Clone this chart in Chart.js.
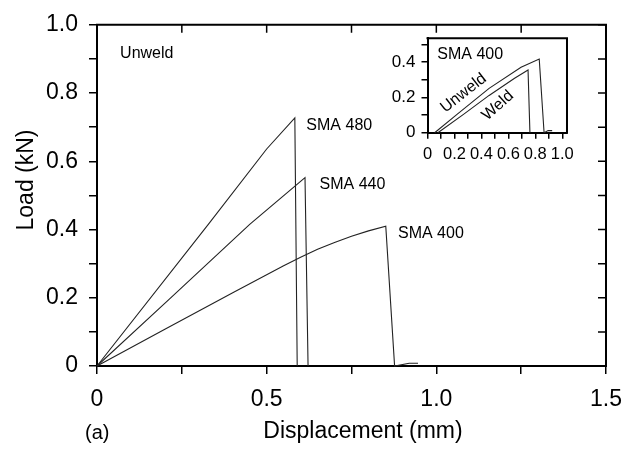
<!DOCTYPE html>
<html>
<head>
<meta charset="utf-8">
<script src="https://cdn.jsdelivr.net/npm/chart.js@4"></script>
<style>
	body {margin: 0; background: #fff;}
	#wrap {position: relative; width: 635px; height: 452px; background: #fff;}
	#main {position: absolute; left: 0; top: 0;}
	#inset {position: absolute; left: 390px; top: 22px;}
</style>
</head>
<body>
<div id="wrap">
	<canvas id="main" width="635" height="452"></canvas>
	<canvas id="inset" width="190" height="150"></canvas>
</div>
<script>
// unwelded specimens, load (kN) vs displacement (mm)
const sma480Disp = [0, 0.328, 0.5, 0.583, 0.59];
const sma480Load = [0, 0.415, 0.636, 0.727, 0];
const sma440Disp = [0, 0.214, 0.45, 0.613, 0.622];
const sma440Load = [0, 0.197, 0.415, 0.552, 0];
const sma400Disp = [0, 0.2, 0.4, 0.55, 0.6, 0.65, 0.7, 0.75, 0.8, 0.851, 0.877, 0.92, 0.946];
const sma400Load = [0, 0.108, 0.215, 0.294, 0.319, 0.342, 0.362, 0.38, 0.396, 0.41, 0, 0.008, 0.008];

// inset: SMA 400, unweld vs weld
const unweldDisp = [0.053, 0.219, 0.457, 0.694, 0.829, 0.865, 0.895, 0.925];
const unweldLoad = [0, 0.104, 0.251, 0.37, 0.417, 0, 0.012, 0.012];
const weldDisp = [0.077, 0.267, 0.457, 0.646, 0.746, 0.76];
const weldLoad = [0, 0.104, 0.211, 0.308, 0.355, 0];

// labelled ticks
const mainXTickValues = [0, 0.5, 1.0, 1.5];
const mainXTickLabels = ["0", "0.5", "1.0", "1.5"];
const mainYTickValues = [0, 0.2, 0.4, 0.6, 0.8, 1.0];
const mainYTickLabels = ["0", "0.2", "0.4", "0.6", "0.8", "1.0"];
const insetXTickValues = [0, 0.2, 0.4, 0.6, 0.8, 1.0];
const insetXTickLabels = ["0", "0.2", "0.4", "0.6", "0.8", "1.0"];
const insetYTickValues = [0, 0.2, 0.4];
const insetYTickLabels = ["0", "0.2", "0.4"];

const FONT = "'Liberation Sans', Arial, Helvetica, sans-serif";
const INK = "#000";

function points(xs, ys) {
	return xs.map((x, i) => ({"x": x, "y": ys[i]}));
}

function labelFor(values, labels) {
	return function (v) {
		const i = values.findIndex((t) => Math.abs(t - v) < 1e-6);
		return i < 0 ? "" : labels[i];
	};
}

function curve(label, xs, ys) {
	return {
		"label": label,
		"data": points(xs, ys),
		"borderColor": "#222",
		"borderWidth": 1.1,
		"pointRadius": 0,
		"tension": 0,
		"fill": false,
		"clip": false,
	};
}

// frame on the free sides, inward mirror ticks, axis titles and the notes
const framePlugin = {
	"id": "frame",
	afterDraw(chart, args, opts) {
		const ctx = chart.ctx;
		const a = chart.chartArea;
		const sx = chart.scales.x;
		const sy = chart.scales.y;
		ctx.save();
		ctx.strokeStyle = "#000";
		ctx.lineWidth = opts.width;
		ctx.beginPath();
		ctx.moveTo(a.left - 1, a.top);
		ctx.lineTo(a.right, a.top);
		ctx.lineTo(a.right, a.bottom + 1);
		ctx.stroke();

		if (opts.mirror) {
			ctx.lineWidth = 1.5;
			ctx.beginPath();
			for (const t of sx.ticks) {
				const p = sx.getPixelForValue(t.value);
				ctx.moveTo(p, a.top);
				ctx.lineTo(p, a.top + opts.tick);
			}
			for (const t of sy.ticks) {
				const p = sy.getPixelForValue(t.value);
				ctx.moveTo(a.right, p);
				ctx.lineTo(a.right - opts.tick, p);
			}
			ctx.stroke();
		}

		ctx.fillStyle = INK;
		for (const n of opts.notes) {
			ctx.save();
			ctx.translate(sx.getPixelForValue(n.x), sy.getPixelForValue(n.y));
			ctx.rotate((n.angle || 0) * Math.PI / 180);
			ctx.font = n.size + "px " + FONT;
			ctx.textAlign = n.align || "left";
			ctx.textBaseline = "middle";
			ctx.fillText(n.text, 0, 0);
			ctx.restore();
		}
		for (const c of (opts.captions || [])) {
			ctx.save();
			ctx.translate(c.left, c.top);
			ctx.rotate((c.angle || 0) * Math.PI / 180);
			ctx.font = c.size + "px " + FONT;
			ctx.textAlign = c.align || "left";
			ctx.textBaseline = "middle";
			ctx.fillText(c.text, 0, 0);
			ctx.restore();
		}
		ctx.restore();
	},
};

new Chart(document.getElementById("main"), {
	"type": "line",
	"data": {
		"datasets": [
			curve("SMA 480", sma480Disp, sma480Load),
			curve("SMA 440", sma440Disp, sma440Load),
			curve("SMA 400", sma400Disp, sma400Load),
		],
	},
	"options": {
		"responsive": false,
		"animation": false,
		"layout": {"padding": {"top": 14, "right": 29, "left": 0, "bottom": 0}},
		"scales": {
			"x": {
				"type": "linear",
				"min": 0,
				"max": 1.5,
				"afterFit": (s) => { s.height = 86; },
				"ticks": {
					"stepSize": 0.25,
					"autoSkip": false,
					"maxRotation": 0,
					"padding": 12,
					"color": INK,
					"font": {"family": FONT, "size": 23},
					"callback": labelFor(mainXTickValues, mainXTickLabels),
				},
				"grid": {"drawOnChartArea": false, "tickLength": 8, "color": "#000", "lineWidth": 1.5},
				"border": {"display": true, "color": "#000", "width": 2},
			},
			"y": {
				"type": "linear",
				"min": 0,
				"max": 1.0,
				"afterFit": (s) => { s.width = 97; },
				"ticks": {
					"stepSize": 0.1,
					"autoSkip": false,
					"padding": 11,
					"color": INK,
					"font": {"family": FONT, "size": 23},
					"callback": labelFor(mainYTickValues, mainYTickLabels),
				},
				"grid": {"drawOnChartArea": false, "tickLength": 8, "color": "#000", "lineWidth": 1.5},
				"border": {"display": true, "color": "#000", "width": 2},
			},
		},
		"plugins": {
			"legend": {"display": false},
			"tooltip": {"enabled": false},
			"frame": {
				"width": 2,
				"mirror": true,
				"tick": 8,
				"notes": [
					{"text": "Unweld", "x": 0.068, "y": 0.915, "size": 16},
					{"text": "SMA 480", "x": 0.617, "y": 0.706, "size": 16},
					{"text": "SMA 440", "x": 0.656, "y": 0.531, "size": 16},
					{"text": "SMA 400", "x": 0.887, "y": 0.389, "size": 16},
				],
				"captions": [
					{"text": "Load (kN)", "left": 27, "top": 180, "size": 23, "align": "center", "angle": -90},
					{"text": "Displacement (mm)", "left": 363, "top": 432, "size": 23, "align": "center"},
					{"text": "(a)", "left": 85, "top": 433, "size": 20},
				],
			},
		},
	},
	"plugins": [framePlugin],
});

new Chart(document.getElementById("inset"), {
	"type": "line",
	"data": {
		"datasets": [
			curve("Unweld", unweldDisp, unweldLoad),
			curve("Weld", weldDisp, weldLoad),
		],
	},
	"options": {
		"responsive": false,
		"animation": false,
		"layout": {"padding": {"top": 10, "right": 7.5, "left": 0, "bottom": 0}},
		"scales": {
			"x": {
				"type": "linear",
				"min": 0,
				"max": 1.035,
				"afterFit": (s) => { s.height = 39.3; },
				"ticks": {
					"stepSize": 0.1,
					"includeBounds": false,
					"autoSkip": false,
					"maxRotation": 0,
					"padding": 6,
					"color": INK,
					"font": {"family": FONT, "size": 16.5},
					"callback": labelFor(insetXTickValues, insetXTickLabels),
				},
				"grid": {"drawOnChartArea": false, "tickLength": 6, "color": "#000", "lineWidth": 1.5},
				"border": {"display": true, "color": "#000", "width": 2},
			},
			"y": {
				"type": "linear",
				"min": 0,
				"max": 0.535,
				"afterFit": (s) => { s.width = 37.5; },
				"ticks": {
					"stepSize": 0.1,
					"includeBounds": false,
					"autoSkip": false,
					"padding": 6,
					"color": INK,
					"font": {"family": FONT, "size": 17},
					"callback": labelFor(insetYTickValues, insetYTickLabels),
				},
				"grid": {"drawOnChartArea": false, "tickLength": 6, "color": "#000", "lineWidth": 1.5},
				"border": {"display": true, "color": "#000", "width": 2},
			},
		},
		"plugins": {
			"legend": {"display": false},
			"tooltip": {"enabled": false},
			"frame": {
				"width": 2,
				"mirror": false,
				"tick": 0,
				"notes": [
					{"text": "SMA 400", "x": 0.317, "y": 0.444, "size": 16, "align": "center"},
					{"text": "Unweld", "x": 0.267, "y": 0.224, "size": 16, "align": "center", "angle": -38},
					{"text": "Weld", "x": 0.522, "y": 0.153, "size": 16, "align": "center", "angle": -42},
				],
			},
		},
	},
	"plugins": [framePlugin],
});
</script>
</body>
</html>
